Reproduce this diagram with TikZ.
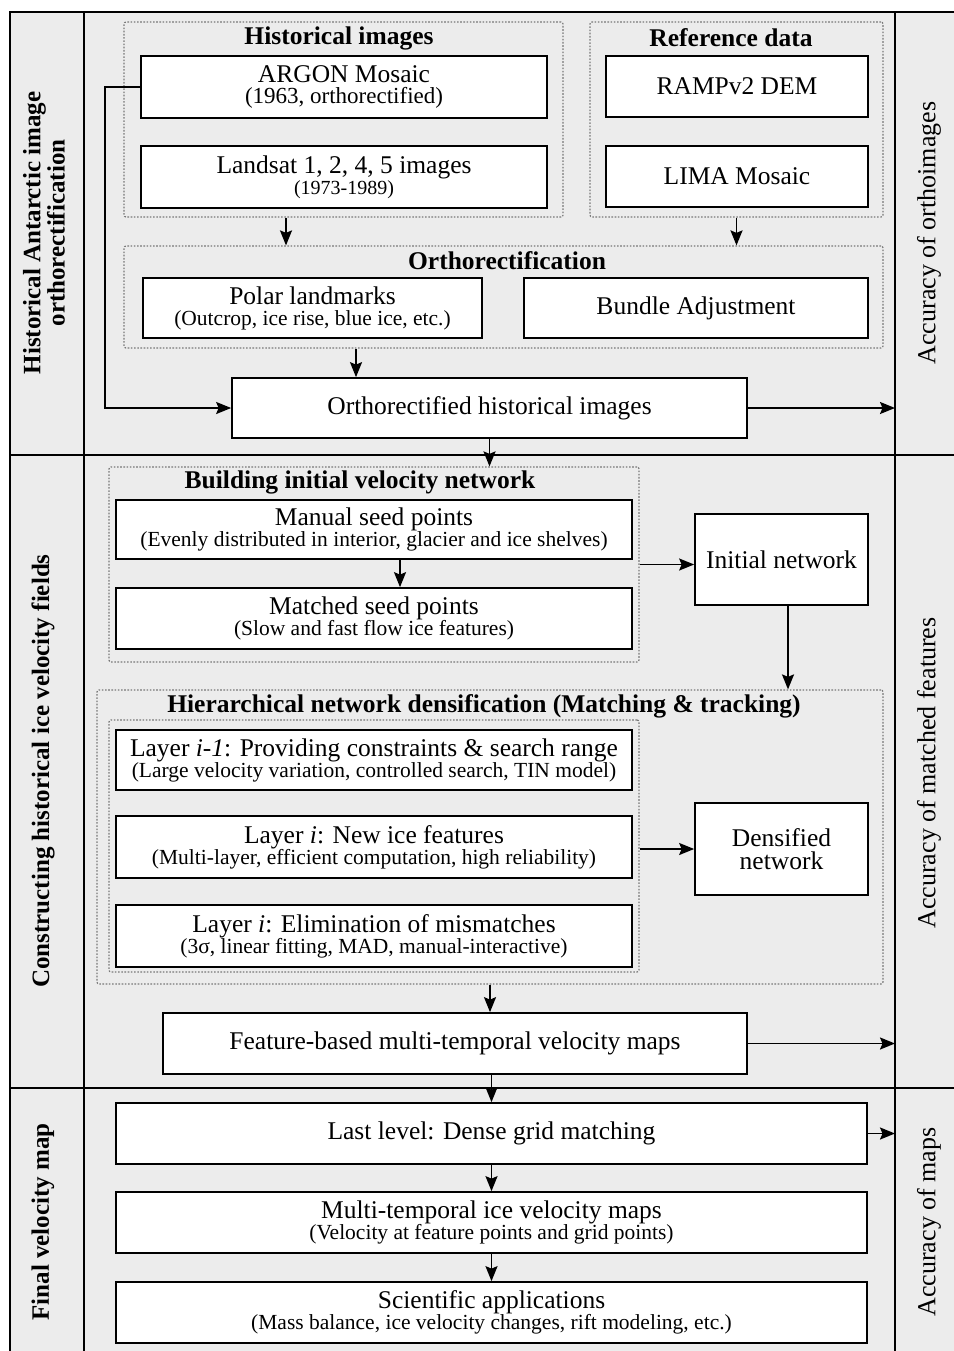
\documentclass[tikz,border=0pt]{standalone}
\usepackage{fontspec}
\setmainfont{Liberation Serif}
\usetikzlibrary{arrows.meta}
\definecolor{bg}{RGB}{236,236,236}
\definecolor{dotc}{RGB}{120,120,120}
\newcommand{\twol}[2]{{\fontsize{25.5}{20}\selectfont #1}\\{\fontsize{21.5}{20}\selectfont #2}}
\begin{document}
\begin{tikzpicture}[x=1pt,y=-1pt,
  box/.style={draw=black, fill=white, line width=1.7pt, inner sep=0pt, align=center,
    font={\fontsize{25.5}{21}\selectfont\lineskiplimit-50pt\lineskip0pt}},
  grp/.style={draw=dotc, line width=1.2pt, dash pattern=on 1.6pt off 1.6pt, rounded corners=2pt, inner sep=0pt},
  ttl/.style={font={\bfseries\fontsize{25.5}{26}\selectfont}, inner sep=0pt},
  arr/.style={line width=1.9pt, -{Stealth[length=15pt,width=12pt,inset=2.5pt]}},
  side/.style={rotate=90, align=center, inner sep=0pt},
  frame/.style={line width=1.6pt}
]
\useasboundingbox (0,0) rectangle (953,1351);
% background and frame
\fill[bg] (10,12) rectangle (960,1360);
\draw[frame] (10,1360) -- (10,12) -- (960,12);
\draw[frame] (84,12) -- (84,1360);
\draw[frame] (895,12) -- (895,1360);
\draw[frame] (10,455) -- (960,455);
\draw[frame] (10,1088) -- (960,1088);
\coordinate (rcol) at (895,0);

% side labels
\node[side, font={\bfseries\fontsize{25}{23}\selectfont}] (lab1) at (44,233) {Historical Antarctic image\\orthorectification};
\node[side, font={\bfseries\fontsize{25}{24}\selectfont}] (lab2) at (43,771) {Constructing historical ice velocity fields};
\node[side, font={\bfseries\fontsize{25}{24}\selectfont}] (lab3) at (43,1222) {Final velocity map};
\node[side, font={\fontsize{26}{26}\selectfont}] (rlab1) at (929,233) {Accuracy of orthoimages};
\node[side, font={\fontsize{26}{26}\selectfont}] (rlab2) at (929,773) {Accuracy of matched features};
\node[side, font={\fontsize{26}{26}\selectfont}] (rlab3) at (929,1222) {Accuracy of maps};

% section 1 groups
\node[grp, minimum width=439pt, minimum height=195pt] (ghist) at (343.5,119.5) {};
\node[grp, minimum width=293pt, minimum height=195pt] (gref) at (736.5,119.5) {};
\node[grp, minimum width=759pt, minimum height=102pt] (gorth) at (503.5,297) {};
\node[ttl] (thist) at (339,38) {Historical images};
\node[ttl] (tref) at (731,38) {Reference data};
\node[ttl] (torth) at (507,261) {Orthorectification};

\node[box, minimum width=406pt, minimum height=62pt] (argon) at (344,87) {{\fontsize{25.5}{20}\selectfont ARGON Mosaic}\\{\fontsize{23}{21}\selectfont (1963, orthorectified)}};
\node[box, minimum width=406pt, minimum height=62pt] (landsat) at (344,177) {{\fontsize{25.5}{20}\selectfont Landsat 1, 2, 4, 5 images}\\{\fontsize{20}{20}\selectfont (1973-1989)}};
\node[box, minimum width=262pt, minimum height=61pt] (ramp) at (737,86.5) {RAMPv2 DEM};
\node[box, minimum width=262pt, minimum height=61pt] (lima) at (737,176.5) {LIMA Mosaic};
\node[box, minimum width=339pt, minimum height=60pt] (polar) at (312.5,308) {\twol{Polar landmarks}{(Outcrop, ice rise, blue ice, etc.)}};
\node[box, minimum width=344pt, minimum height=60pt] (bundle) at (696,308) {Bundle Adjustment};
\node[box, minimum width=515pt, minimum height=60pt] (ortho) at (489.5,408) {Orthorectified historical images};

% section 2
\node[grp, minimum width=530pt, minimum height=195pt] (gbuild) at (374,564.5) {};
\node[grp, minimum width=786pt, minimum height=294pt] (ghier) at (490,837) {};
\node[grp, minimum width=530pt, minimum height=252pt] (ginner) at (374,846) {};
\node[ttl] (tbuild) at (360,482) {Building initial velocity network};
\node[ttl] (thier) at (484,706) {Hierarchical network densification (Matching \& tracking)};

\node[box, minimum width=516pt, minimum height=59pt] (manual) at (374,529.5) {\twol{Manual seed points}{(Evenly distributed in interior, glacier and ice shelves)}};
\node[box, minimum width=516pt, minimum height=61pt] (matched) at (374,618.5) {\twol{Matched seed points}{(Slow and fast flow ice features)}};
\node[box, minimum width=173pt, minimum height=91pt] (initial) at (781.5,559.5) {Initial network};
\node[box, minimum width=516pt, minimum height=60pt] (layer1) at (374,760) {\twol{Layer \textit{i-1}: Providing constraints \& search range}{(Large velocity variation, controlled search, TIN model)}};
\node[box, minimum width=516pt, minimum height=62pt] (layer2) at (374,847) {\twol{Layer \textit{i}: New ice features}{(Multi-layer, efficient computation, high reliability)}};
\node[box, minimum width=516pt, minimum height=62pt] (layer3) at (374,936) {\twol{Layer \textit{i}: Elimination of mismatches}{(3σ, linear fitting, MAD, manual-interactive)}};
\node[box, minimum width=173pt, minimum height=92pt, font={\fontsize{25.5}{23.5}\selectfont\lineskiplimit-50pt\lineskip0pt}] (densified) at (781.5,849) {Densified\\network};
\node[box, minimum width=584pt, minimum height=61pt] (feature) at (455,1043.5) {Feature-based multi-temporal velocity maps};

% section 3
\node[box, minimum width=751pt, minimum height=61pt] (last) at (491.5,1133.5) {Last level: Dense grid matching};
\node[box, minimum width=751pt, minimum height=61pt] (multi) at (491.5,1222.5) {\twol{Multi-temporal ice velocity maps}{(Velocity at feature points and grid points)}};
\node[box, minimum width=751pt, minimum height=61pt] (sci) at (491.5,1312.5) {\twol{Scientific applications}{(Mass balance, ice velocity changes, rift modeling, etc.)}};

% connectors
\draw[arr] ([xshift=-57.5pt]ghist.south) -- ([xshift=-57.5pt]ghist.south |- gorth.north);
\draw[arr] (gref.south) -- (gref.south |- gorth.north);
\draw[arr] ([xshift=-147.5pt]gorth.south) -- ([xshift=-147.5pt]gorth.south |- ortho.north);
\draw[arr] (argon.west) -- ++(-35pt,0pt) |- (ortho.west);
\draw[arr] (ortho.east) -- (ortho.east -| rcol);
\draw[arr] (ortho.south) -- (ortho.south |- gbuild.north);
\draw[arr] ([xshift=26pt]manual.south) -- ([xshift=26pt]matched.north);
\draw[arr] (gbuild.east) -- (gbuild.east -| initial.west);
\draw[arr] ([xshift=6.5pt]initial.south) -- ([xshift=6.5pt]initial.south |- ghier.north);
\draw[arr] (ginner.east |- densified.west) -- (densified.west);
\draw[arr] (ghier.south) -- (ghier.south |- feature.north);
\draw[arr] (feature.east) -- (feature.east -| rcol);
\draw[arr] (last.north |- feature.south) -- (last.north);
\draw[arr] (last.east) -- (last.east -| rcol);
\draw[arr] (last.south) -- (multi.north);
\draw[arr] (multi.south) -- (sci.north);
\end{tikzpicture}
\end{document}
